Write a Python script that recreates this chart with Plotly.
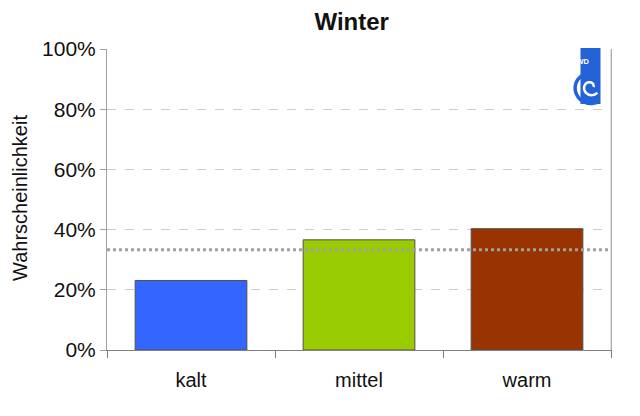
import numpy as np
import plotly.graph_objects as go

# Winter: Wahrscheinlichkeit je Kategorie
categories = ["kalt", "mittel", "warm"]
probabilities = [0.231, 0.366, 0.403]
bar_colors = ["#3366FF", "#99CC00", "#993300"]
climate_ref = 1 / 3  # klimatologische Wahrscheinlichkeit

font_name = "Liberation Sans, Arial, sans-serif"

# page has an 8px body margin, so the figure is a bit smaller than the window
W, H = 632, 408
L, R, T, B = 99, 29, 41, 66
PW, PH = W - L - R, H - T - B


def px(x):  # page pixel -> paper x
    return (x - 8 - L) / PW


def py(y):  # page pixel -> paper y
    return (H - B - (y - 8)) / PH


fig = go.Figure()
fig.add_trace(go.Bar(
    x=categories,
    y=probabilities,
    marker=dict(color=bar_colors, line=dict(color="#505050", width=1)),
    width=0.665,
    hoverinfo="skip",
))

# gepunktete Linie bei 33,3 %
fig.add_shape(type="line", xref="paper", yref="y", x0=0, x1=1,
              y0=climate_ref, y1=climate_ref,
              line=dict(color="#A0A0A0", width=3, dash="dot"))

# rechte Rahmenlinie
fig.add_shape(type="line", xref="paper", yref="paper", x0=1, x1=1, y0=0, y1=1,
              line=dict(color="#C0C0C0", width=1))

# DWD-Logo (vereinfacht)
logo_blue = "#2462D8"
clear = "rgba(0,0,0,0)"


def arc(cx, cy, r0, r1, a0, a1, n=60):
    t = np.linspace(a0, a1, n)
    r = np.linspace(r0, r1, n)
    a = np.radians(t)
    pts = [(px(cx + rr * np.cos(aa)), py(cy - rr * np.sin(aa))) for rr, aa in zip(r, a)]
    return "M " + " L ".join(f"{x:.4f},{y:.4f}" for x, y in pts)


fig.add_shape(type="path", xref="paper", yref="paper",
              path=arc(590, 87, 13, 17, 80, 300),
              fillcolor=clear, line=dict(color=logo_blue, width=3.5))
fig.add_shape(type="rect", xref="paper", yref="paper",
              x0=px(580.5), x1=px(600.5), y0=py(104), y1=py(48),
              fillcolor=logo_blue, line=dict(width=0))
fig.add_shape(type="path", xref="paper", yref="paper",
              path=arc(590.5, 87, 3, 9, 0, 320),
              fillcolor=clear, line=dict(color="white", width=2.5))
fig.add_annotation(text="<b>DWD</b>", xref="paper", yref="paper",
                   x=px(590.5), y=py(55), showarrow=False,
                   font=dict(family=font_name, size=7.5, color="white"))

# Achsentitel
fig.add_annotation(text="Wahrscheinlichkeit", xref="paper", yref="paper",
                   x=px(20), y=py(198), xanchor="center", yanchor="middle",
                   textangle=-90, showarrow=False,
                   font=dict(family=font_name, size=20, color="#111111"))

fig.update_layout(
    width=W, height=H,
    margin=dict(l=L, r=R, t=T, b=B),
    paper_bgcolor="white", plot_bgcolor="white",
    showlegend=False,
    bargap=0.335,
    font=dict(family=font_name, size=20, color="#111111"),
    title=dict(text="<b>Winter</b>", xref="container", x=(351.7 - 8) / W,
               xanchor="center", yref="container", y=1 - (21.7 - 8) / H,
               yanchor="middle",
               font=dict(family=font_name, size=24, color="#111111")),
)
fig.update_xaxes(
    type="category",
    showline=True, linecolor="#808080", linewidth=1,
    ticks="outside", tickson="boundaries", ticklen=7, tickcolor="#808080",
    ticklabelstandoff=12,
    showgrid=False,
    tickfont=dict(size=20),
)
fig.update_yaxes(
    range=[0, 1], dtick=0.2, tickformat=".0%",
    showline=True, linecolor="#A0A0A0", linewidth=1, mirror=True,
    ticks="outside", ticklen=6, tickcolor="#A0A0A0",
    showgrid=True, gridcolor="#CCCCCC", griddash="dash", gridwidth=1,
    zeroline=False,
    tickfont=dict(size=21),
)

fig.write_html("out.html")
